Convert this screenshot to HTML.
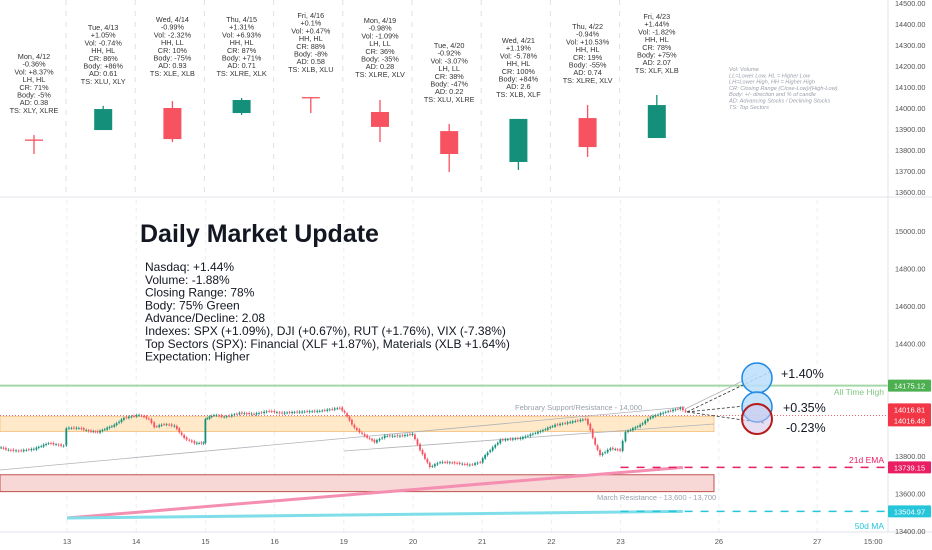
<!DOCTYPE html>
<html><head><meta charset="utf-8"><style>
html,body{margin:0;padding:0;background:#fff;}
svg{display:block;font-family:"Liberation Sans",sans-serif;}
</style></head><body>
<svg id="c" width="932" height="550" xmlns="http://www.w3.org/2000/svg">
<rect width="932" height="550" fill="#fff"/>
<g id="grid"></g>
<g id="top"></g>
<g id="low"></g>
<g id="ax"></g>
</svg>
<script>
// ===== data =====
const dayLabels=["Mon, 4/12","Tue, 4/13","Wed, 4/14","Thu, 4/15","Fri, 4/16","Mon, 4/19","Tue, 4/20","Wed, 4/21","Thu, 4/22","Fri, 4/23"];
const dOpen=[13850,13895,14000,13976,14052,13981,13890,13743,13952,13857];
const dHigh=[13871,14010,14033,14048,14052,14038,13924,13948,14014,14062];
const dLow=[13781,13895,13838,13967,13976,13838,13695,13705,13767,13857];
const dClose=[13845,13995,13852,14038,14048,13910,13781,13948,13814,14014];
const dNotes=[
["-0.36%","Vol: +8.37%","LH, HL","CR: 71%","Body: -5%","AD: 0.38","TS: XLY, XLRE"],
["+1.05%","Vol: -0.74%","HH, HL","CR: 86%","Body: +86%","AD: 0.61","TS: XLU, XLY"],
["-0.99%","Vol: -2.32%","HH, LL","CR: 10%","Body: -75%","AD: 0.93","TS: XLE, XLB"],
["+1.31%","Vol: +6.93%","HH, HL","CR: 87%","Body: +71%","AD: 0.71","TS: XLRE, XLK"],
["+0.1%","Vol: +0.47%","HH, HL","CR: 88%","Body: -8%","AD: 0.58","TS: XLB, XLU"],
["-0.98%","Vol: -1.09%","LH, LL","CR: 36%","Body: -35%","AD: 0.28","TS: XLRE, XLV"],
["-0.92%","Vol: -3.07%","LH, LL","CR: 38%","Body: -47%","AD: 0.22","TS: XLU, XLRE"],
["+1.19%","Vol: -5.78%","HH, HL","CR: 100%","Body: +84%","AD: 2.6","TS: XLB, XLF"],
["-0.94%","Vol: +10.53%","HH, HL","CR: 19%","Body: -55%","AD: 0.74","TS: XLRE, XLV"],
["+1.44%","Vol: -1.82%","HH, HL","CR: 78%","Body: +75%","AD: 2.07","TS: XLF, XLB"]];
const noteTop=[56,27,19,19,15,20,45,40,26,16];
const topTicks=[14500,14400,14300,14200,14100,14000,13900,13800,13700,13600];
const lowTicks=[15000,14800,14600,14400,13800,13600,13400];
const dateTicks=["13","14","15","16","19","20","21","22","23","26","27","15:00"];
const dateIdx=[0,1,2,3,4,5,6,7,8,9.42,10.84,11.65];
// intraday path: time (trading days from 4/13 open) and price
const iTime=[-0.97,-0.83,-0.68,-0.46,-0.25,-0.03,0.01,0.19,0.33,0.46,0.70,0.84,1.06,1.20,1.28,1.42,1.57,1.71,1.86,1.99,2.01,2.14,2.29,2.51,2.72,2.94,3.09,3.38,3.67,3.96,4.03,4.17,4.32,4.46,4.61,4.83,5.01,5.12,5.26,5.41,5.62,5.84,5.99,6.06,6.28,6.57,6.86,7.07,7.29,7.51,7.58,7.65,7.72,7.87,8.01,8.09,8.30,8.45,8.67,8.88,8.96];
const iPrice=[13848,13832,13827,13838,13869,13853,13949,13949,13933,13928,13965,14003,14019,13997,13955,13970,13960,13896,13869,13869,13997,14019,14008,14029,14024,14040,14029,14035,14040,14056,14030,13949,13907,13875,13907,13907,13917,13832,13741,13768,13763,13752,13768,13805,13885,13895,13933,13965,13981,13997,13939,13859,13805,13840,13830,13928,13965,14008,14035,14056,14035];
const levels={ath:14175.12,last:14016.48,lastHi:14016.81,ema:13739.15,ma:13504.97};
const infoLines=["Nasdaq: +1.44%","Volume: -1.88%","Closing Range: 78%","Body: 75% Green","Advance/Decline: 2.08","Indexes: SPX (+1.09%), DJI (+0.67%), RUT (+1.76%), VIX (-7.38%)","Top Sectors (SPX): Financial (XLF +1.87%), Materials (XLB +1.64%)","Expectation: Higher"];
const legendLines=["Vol: Volume","LL=Lower Low, HL = Higher Low","LH=Lower High, HH = Higher High","CR: Closing Range (Close-Low)/(High-Low)","Body: +/- direction and % of candle","AD: Advancing Stocks / Declining Stocks","TS: Top Sectors"];

// ===== scales =====
const yTop=v=>3+(14500-v)*0.21;
const yLow=v=>231+(15000-v)*0.1875;
const xT=t=>67+t*69.2;
const dayX=i=>34+i*69.2;
const NS="http://www.w3.org/2000/svg";
function mk(tag,attrs,parent){const e=document.createElementNS(NS,tag);for(const k in attrs)e.setAttribute(k,attrs[k]);parent.appendChild(e);return e;}
const G=document.getElementById('grid'),T=document.getElementById('top'),L=document.getElementById('low'),A=document.getElementById('ax');
const UP="#138f7a",DN="#f7525f";

// grid
dateIdx.slice(0,11).forEach((d,i)=>{
 const x=xT(d);
 let l=mk('line',{x1:x,x2:x,y1:200,y2:532,stroke:"#eceef2","stroke-dasharray":"4 4"},G);
 
 
});
for(let i=0;i<9;i++){const xx=66+i*69.2;
 let l=mk('line',{x1:xx,x2:xx,y1:0,y2:196,stroke:"#dfe2e8","stroke-dasharray":"5 6"},G);
 
 
}
mk('line',{x1:0,x2:888,y1:197,y2:197,stroke:"#e0e3eb"},G);

// top pane candles + notes
dayLabels.forEach((lab,i)=>{
 const x=dayX(i),col=dClose[i]>=dOpen[i]?UP:DN;
 const g=mk('g',{},T);
 
 
 mk('line',{x1:x,x2:x,y1:yTop(dHigh[i]),y2:yTop(dLow[i]),stroke:col,"stroke-width":1.3},g);
 const top=yTop(Math.max(dOpen[i],dClose[i])),bot=yTop(Math.min(dOpen[i],dClose[i]));
 mk('rect',{x:x-9,y:top,width:18,height:Math.max(1.3,bot-top),fill:col},g);
 const t=mk('text',{x:x,y:noteTop[i]+3,"font-size":"7.3","text-anchor":"middle",fill:"#333"},T);
 
 
 [lab].concat(dNotes[i]).forEach((s,j)=>{const ts=mk('tspan',{x:x,dy:j?7.7:0},t);ts.textContent=s;});
});
const lg=mk('text',{x:729,y:71,"font-size":"5.6","font-style":"italic",fill:"#9aa0ab"},T);


legendLines.forEach((s,j)=>{const ts=mk('tspan',{x:729,dy:j?6.3:0},lg);ts.textContent=s;});

// lower pane zones
let z=mk('rect',{x:0,y:yLow(14010),width:714,height:yLow(13930)-yLow(14010),fill:"#ffe0b2","fill-opacity":0.7,stroke:"#f5c07a","stroke-width":0.8},L);

z=mk('rect',{x:0,y:yLow(13700),width:714,height:yLow(13610)-yLow(13700),fill:"#f8d7d7",stroke:"#c0504d","stroke-width":1},L);

let t=mk('text',{x:515,y:410,"font-size":"7.5",fill:"#9aa0ab"},L);t.textContent="February Support/Resistance - 14,000";

t=mk('text',{x:597,y:500,"font-size":"7.5",fill:"#9aa0ab"},L);t.textContent="March Resistance - 13,600 - 13,700";


// level lines
let l=mk('line',{x1:0,x2:888,y1:yLow(levels.ath),y2:yLow(levels.ath),stroke:"#a5d6a7","stroke-width":2},L);

l=mk('line',{x1:0,x2:888,y1:yLow(levels.last),y2:yLow(levels.last),stroke:"#f23645","stroke-width":0.7,"stroke-dasharray":"1 2"},L);

// trend lines
mk('line',{x1:0,y1:470,x2:685,y2:407,stroke:"#b0b3b8","stroke-width":0.8},L);
mk('line',{x1:344,y1:451,x2:714,y2:424,stroke:"#b0b3b8","stroke-width":0.8},L);
mk('line',{x1:685,y1:409,x2:757,y2:374,stroke:"#b0b3b8","stroke-width":0.8},L);
// EMA / MA
l=mk('line',{x1:xT(0),y1:518,x2:xT(8.9),y2:yLow(levels.ema),stroke:"#f48fb1","stroke-width":3},L);

l=mk('line',{x1:xT(8),y1:yLow(levels.ema),x2:888,y2:yLow(levels.ema),stroke:"#e91e63","stroke-width":1.5,"stroke-dasharray":"8 8"},L);

l=mk('line',{x1:xT(0),y1:518,x2:xT(8.9),y2:yLow(levels.ma),stroke:"#80deea","stroke-width":3},L);

l=mk('line',{x1:xT(8),y1:yLow(levels.ma),x2:888,y2:yLow(levels.ma),stroke:"#26c6da","stroke-width":1.5,"stroke-dasharray":"8 8"},L);

t=mk('text',{x:884,y:395,"font-size":"8.5",fill:"#81c784","text-anchor":"end"},L);t.textContent="All Time High";

t=mk('text',{x:884,y:463,"font-size":"8.5",fill:"#e91e63","text-anchor":"end"},L);t.textContent="21d EMA";

t=mk('text',{x:884,y:529,"font-size":"8.5",fill:"#26c6da","text-anchor":"end"},L);t.textContent="50d MA";


// intraday candles from path
const ig=mk('g',{},L);


for(let k=0;k<iTime.length-1;k++){
 const x0=xT(iTime[k]),x1=xT(iTime[k+1]);
 const n=Math.max(1,Math.round((x1-x0)/2.4));
 for(let s=0;s<n;s++){
  const a=iPrice[k]+(iPrice[k+1]-iPrice[k])*s/n, b=iPrice[k]+(iPrice[k+1]-iPrice[k])*(s+1)/n;
  const wig=((s+k)%3-1)*3;
  const o=a+wig, c=b-wig*0.5;
  const x=x0+(x1-x0)*(s+0.5)/n,col=c>=o?UP:DN;
  const yt=yLow(Math.max(o,c)),yb=yLow(Math.min(o,c));
  mk('line',{x1:x,x2:x,y1:yt-1.5,y2:yb+1.5,stroke:col,"stroke-width":0.7},ig);
  mk('rect',{x:x-0.9,y:yt,width:1.8,height:Math.max(0.8,yb-yt),fill:col},ig);
 }
}
// projections
const lx=xT(iTime[iTime.length-1]),ly=yLow(iPrice[iPrice.length-1]);
[[770,372],[764,404],[764,423]].forEach(p=>{mk('line',{x1:lx,y1:ly,x2:p[0],y2:p[1],stroke:"#333","stroke-width":0.8,"stroke-dasharray":"3 2"},L);});
let cc=mk('circle',{cx:757,cy:378,r:15,fill:"#bbdefb","fill-opacity":0.85,stroke:"#1e88e5","stroke-width":1.5},L);

cc=mk('circle',{cx:757,cy:407,r:15,fill:"#bbdefb","fill-opacity":0.85,stroke:"#1e88e5","stroke-width":1.5},L);

cc=mk('circle',{cx:757,cy:419,r:15,fill:"#d1c4e9","fill-opacity":0.55,stroke:"#b71c1c","stroke-width":2},L);

[["+1.40%",781,378],["+0.35%",783,412],["-0.23%",786,432]].forEach(p=>{const e=mk('text',{x:p[1],y:p[2],"font-size":"12.5",fill:"#131722"},L);e.textContent=p[0];
 });

// title and info
t=mk('text',{x:140,y:242,"font-size":"25","font-weight":"bold",fill:"#131722"},L);t.textContent="Daily Market Update";

const info=mk('text',{x:145,y:271,"font-size":"12",fill:"#131722"},L);

infoLines.forEach((s,j)=>{const ts=mk('tspan',{x:145,dy:j?12.8:0},info);ts.textContent=s;});

// axes
mk('rect',{x:888,y:0,width:44,height:550,fill:"#fff"},A);
mk('line',{x1:888,x2:888,y1:0,y2:532,stroke:"#e0e3eb"},A);
mk('line',{x1:0,x2:932,y1:532,y2:532,stroke:"#e0e3eb"},A);
mk('line',{x1:888,x2:932,y1:197,y2:197,stroke:"#e0e3eb"},A);
topTicks.forEach(v=>{const e=mk('text',{x:895,y:yTop(v)+3,"font-size":"7.3",fill:"#555"},A);e.textContent=v.toFixed(2);
 });
lowTicks.forEach(v=>{const e=mk('text',{x:895,y:yLow(v)+3,"font-size":"7.3",fill:"#555"},A);e.textContent=v.toFixed(2);
 });
dateTicks.forEach((s,i)=>{const e=mk('text',{x:xT(dateIdx[i]),y:544,"font-size":"7.5",fill:"#555","text-anchor":"middle"},A);e.textContent=s;
 });
[[levels.ath,"#4caf50",0],[levels.lastHi,"#f23645",-6],[levels.last,"#f23645",5],[levels.ema,"#e91e63",0],[levels.ma,"#26c6da",0]].forEach(p=>{
 const y=yLow(p[0])+p[2];
 const r=mk('rect',{x:888,y:y-6,width:43,height:12,fill:p[1],rx:1},A);
 
 const e=mk('text',{x:909.5,y:y+3,"font-size":"7.5",fill:"#fff","text-anchor":"middle"},A);e.textContent=p[0].toFixed(2);
});
</script>
</body></html>
